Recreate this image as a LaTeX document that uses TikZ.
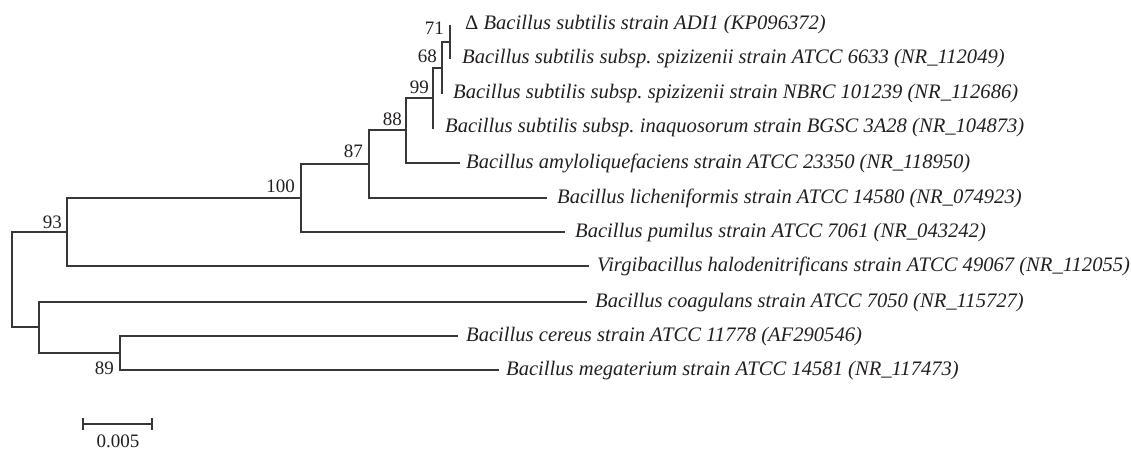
\documentclass[tikz,border=0pt]{standalone}
\usepackage{fontspec}
\setmainfont{Liberation Serif}
\frenchspacing
\definecolor{linecol}{RGB}{55,55,55}
\definecolor{txtcol}{RGB}{35,31,32}
\begin{document}
\begin{tikzpicture}[x=1pt,y=-1pt,
  branch/.style={draw=linecol, line width=1.1pt},
  taxon/.style={anchor=west, inner sep=0pt, text height=10pt, text depth=0pt, font=\fontsize{20.6}{20.6}\selectfont\itshape, text=txtcol},
  boot/.style={anchor=base east, inner sep=0pt, font=\fontsize{19}{19}\selectfont, text=txtcol}]
\useasboundingbox (0,0) rectangle (1131,449);
% internal nodes
\coordinate (root) at (12,280);
\coordinate (n93) at (67,232);
\coordinate (n100) at (301,198);
\coordinate (n87) at (369,164);
\coordinate (n88) at (406,130);
\coordinate (n99) at (433,98);
\coordinate (n68) at (442,68);
\coordinate (n71) at (450,42);
\coordinate (nB) at (39,327);
\coordinate (n89) at (120,353);
% leaf ends
\coordinate (eADI) at (450,25);
\coordinate (e6633) at (450,59);
\coordinate (eNBRC) at (442,94);
\coordinate (eINA) at (434,128);
\coordinate (eAMY) at (460,163);
\coordinate (eLIC) at (547,198);
\coordinate (ePUM) at (565,232);
\coordinate (eVIR) at (589,266);
\coordinate (eCOA) at (587,302);
\coordinate (eCER) at (458,336);
\coordinate (eMEG) at (499,370);
% branches
\draw[branch] (root) |- (n93);
\draw[branch] (root) |- (nB);
\draw[branch] (n93) |- (n100);
\draw[branch] (n93) |- (eVIR);
\draw[branch] (n100) |- (n87);
\draw[branch] (n100) |- (ePUM);
\draw[branch] (n87) |- (n88);
\draw[branch] (n87) |- (eLIC);
\draw[branch] (n88) |- (n99);
\draw[branch] (n88) |- (eAMY);
\draw[branch] (n99) |- (n68);
\draw[branch] (n99) |- (eINA);
\draw[branch] (n68) |- (n71);
\draw[branch] (n68) |- (eNBRC);
\draw[branch] (n71) |- (eADI);
\draw[branch] (n71) |- (e6633);
\draw[branch] (nB) |- (eCOA);
\draw[branch] (nB) |- (n89);
\draw[branch] (n89) |- (eCER);
\draw[branch] (n89) |- (eMEG);
% taxa
\node[taxon] (tADI) at (465,25) {{\upshape Δ} Bacillus subtilis strain ADI1 (KP096372)};
\node[taxon] (t6633) at (462,59) {Bacillus subtilis subsp. spizizenii strain ATCC 6633 (NR\_112049)};
\node[taxon] (tNBRC) at (453,94) {Bacillus subtilis subsp. spizizenii strain NBRC 101239 (NR\_112686)};
\node[taxon] (tINA) at (445,128) {Bacillus subtilis subsp. inaquosorum strain BGSC 3A28 (NR\_104873)};
\node[taxon] (tAMY) at (466,163) {Bacillus amyloliquefaciens strain ATCC 23350 (NR\_118950)};
\node[taxon] (tLIC) at (557,198) {Bacillus licheniformis strain ATCC 14580 (NR\_074923)};
\node[taxon] (tPUM) at (575,232) {Bacillus pumilus strain ATCC 7061 (NR\_043242)};
\node[taxon] (tVIR) at (597,266) {Virgibacillus halodenitrificans strain ATCC 49067 (NR\_112055)};
\node[taxon] (tCOA) at (595,302) {Bacillus coagulans strain ATCC 7050 (NR\_115727)};
\node[taxon] (tCER) at (466,336) {Bacillus cereus strain ATCC 11778 (AF290546)};
\node[taxon] (tMEG) at (506,370) {Bacillus megaterium strain ATCC 14581 (NR\_117473)};
% bootstrap values
\node[boot] (b71) at (444,35) {71};
\node[boot] (b68) at (437,63) {68};
\node[boot] (b99) at (429,94) {99};
\node[boot] (b88) at (402,126) {88};
\node[boot] (b87) at (363,158) {87};
\node[boot] (b100) at (295,192) {100};
\node[boot] (b93) at (62,228) {93};
\node[boot] (b89) at (114,374) {89};
% scale bar
\coordinate (sbL) at (83,424);
\coordinate (sbR) at (152,424);
\draw[branch] (sbL) -- (sbR);
\draw[branch] ([yshift=-6pt]sbL) -- ([yshift=6pt]sbL);
\draw[branch] ([yshift=-6pt]sbR) -- ([yshift=6pt]sbR);
\node[anchor=base, inner sep=0pt, font=\fontsize{19}{19}\selectfont, text=txtcol] (sbT) at (118,447) {0.005};
\end{tikzpicture}
\end{document}
